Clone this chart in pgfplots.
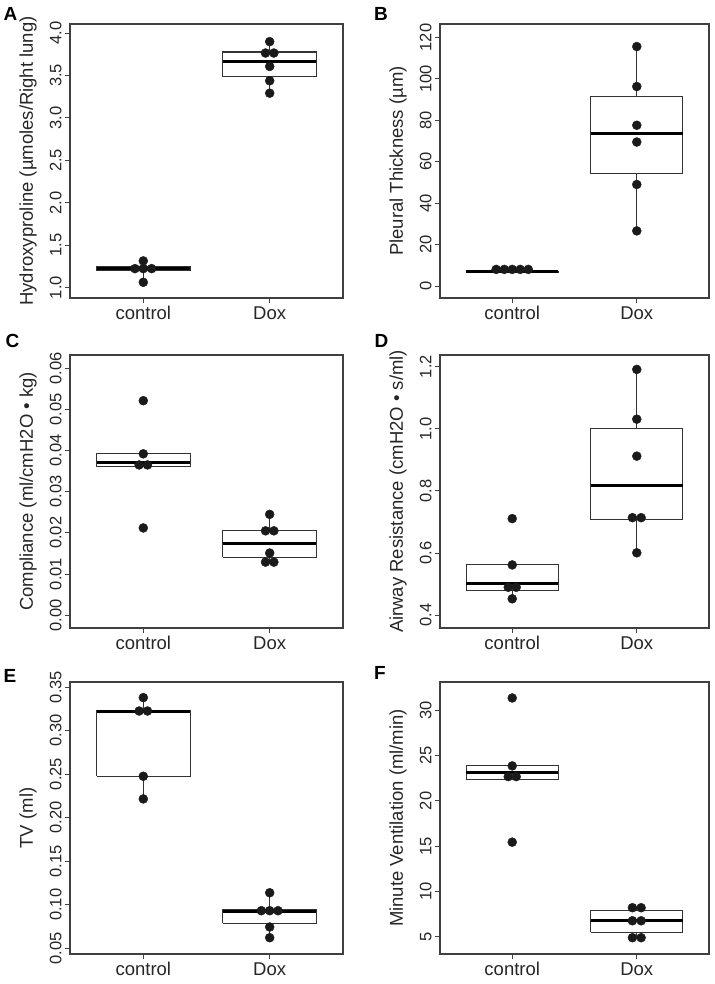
\documentclass[border=0pt]{standalone}
\usepackage{fontspec}
\setmainfont{Liberation Sans}
\usepackage{pgfplots}
\pgfplotsset{compat=1.18}
\definecolor{dotcol}{HTML}{1A1A1A}
\definecolor{linecol}{HTML}{333333}
\definecolor{framecol}{HTML}{404040}
\pgfplotsset{
  panel/.style={
    scale only axis,
    xmin=0.42, xmax=2.58,
    xtick={1,2}, xticklabels={control,Dox},
    axis line style={framecol, line width=1.1pt},
    tick style={framecol, line width=0.9pt},
    major tick length=5pt,
    tick align=outside,
    xtick pos=bottom, ytick pos=left,
    /pgf/number format/assume math mode=true,
    yticklabel style={rotate=90, anchor=south, font=\fontsize{16.5}{19}\selectfont, text=black!85},
    xticklabel style={font=\fontsize{18.5}{22}\selectfont, text=black!85},
    every axis y label/.style={at={(axis description cs:0,0.5)}, xshift=-42pt, rotate=90, anchor=center, font=\fontsize{18.5}{22}\selectfont, text=black!85},
    clip=false,
  },
  boxline/.style={linecol, line width=1.1pt},
  medline/.style={black, line width=3pt},
  dots/.style={only marks, mark=*, mark size=4.5pt, dotcol, mark options={draw=dotcol, fill=dotcol}},
}
\begin{document}
\begin{tikzpicture}
\useasboundingbox (0,0) rectangle (714pt,984pt);

% ---------------- A ----------------
\begin{axis}[panel, at={(70pt,686pt)}, anchor=south west, width=273pt, height=274pt,
  ymin=0.878, ymax=4.106, ytick={1,1.5,2,2.5,3,3.5,4},
  yticklabel style={/pgf/number format/.cd, fixed, fixed zerofill, precision=1},
  ylabel={Hydroxyproline (µmoles/Right lung)}]
\addplot[boxline] coordinates {(1,1.063) (1,1.315)};
\addplot[boxline, fill=white] coordinates {(0.63,1.20) (1.37,1.20) (1.37,1.252) (0.63,1.252) (0.63,1.20)};
\addplot[medline] coordinates {(0.63,1.226) (1.37,1.226)};
\addplot[boxline] coordinates {(2,3.291) (2,3.898)};
\addplot[boxline, fill=white] coordinates {(1.63,3.484) (2.37,3.484) (2.37,3.776) (1.63,3.776) (1.63,3.484)};
\addplot[medline] coordinates {(1.63,3.669) (2.37,3.669)};
\addplot[dots] coordinates {(1,1.315) (0.934,1.224) (1,1.224) (1.066,1.224) (1,1.063)};
\addplot[dots] coordinates {(2,3.898) (1.967,3.764) (2.033,3.764) (2,3.606) (2,3.437) (2,3.291)};
\end{axis}

% ---------------- B ----------------
\begin{axis}[panel, at={(440pt,686pt)}, anchor=south west, width=269pt, height=274pt,
  ymin=-5.8, ymax=126.5, ytick={0,20,40,60,80,100,120},
  ylabel={Pleural Thickness (µm)}]
\addplot[boxline, fill=white] coordinates {(0.63,6.6) (1.37,6.6) (1.37,7.1) (0.63,7.1) (0.63,6.6)};
\addplot[medline] coordinates {(0.63,6.85) (1.37,6.85)};
\addplot[boxline] coordinates {(2,26.6) (2,115.6)};
\addplot[boxline, fill=white] coordinates {(1.63,54.2) (2.37,54.2) (2.37,91.6) (1.63,91.6) (1.63,54.2)};
\addplot[medline] coordinates {(1.63,73.7) (2.37,73.7)};
\addplot[dots] coordinates {(0.871,8.0) (0.936,8.0) (1,8.0) (1.064,8.0) (1.129,8.0)};
\addplot[dots] coordinates {(2,115.6) (2,96.3) (2,77.6) (2,69.5) (2,49.0) (2,26.6)};
\end{axis}

% ---------------- C ----------------
\begin{axis}[panel, at={(70pt,356pt)}, anchor=south west, width=273pt, height=273pt,
  ymin=-0.0031, ymax=0.0632, ytick={0,0.01,0.02,0.03,0.04,0.05,0.06},
  scaled y ticks=false,
  yticklabel style={/pgf/number format/.cd, fixed, fixed zerofill, precision=2},
  ylabel={Compliance (ml/cmH2O • kg)}]
\addplot[boxline, fill=white] coordinates {(0.63,0.0361) (1.37,0.0361) (1.37,0.0392) (0.63,0.0392) (0.63,0.0361)};
\addplot[medline] coordinates {(0.63,0.0371) (1.37,0.0371)};
\addplot[boxline] coordinates {(2,0.0129) (2,0.0245)};
\addplot[boxline, fill=white] coordinates {(1.63,0.0141) (2.37,0.0141) (2.37,0.0206) (1.63,0.0206) (1.63,0.0141)};
\addplot[medline] coordinates {(1.63,0.0175) (2.37,0.0175)};
\addplot[dots] coordinates {(1,0.0521) (1,0.0392) (0.967,0.0365) (1.033,0.0365) (1,0.0212)};
\addplot[dots] coordinates {(2,0.0245) (1.967,0.0205) (2.033,0.0205) (2,0.0151) (1.967,0.0129) (2.033,0.0129)};
\end{axis}

% ---------------- D ----------------
\begin{axis}[panel, at={(440pt,356pt)}, anchor=south west, width=269pt, height=273pt,
  ymin=0.359, ymax=1.2375, ytick={0.4,0.6,0.8,1.0,1.2},
  yticklabel style={/pgf/number format/.cd, fixed, fixed zerofill, precision=1},
  ylabel={Airway Resistance (cmH2O • s/ml)}]
\addplot[boxline] coordinates {(1,0.453) (1,0.480)};
\addplot[boxline, fill=white] coordinates {(0.63,0.480) (1.37,0.480) (1.37,0.563) (0.63,0.563) (0.63,0.480)};
\addplot[medline] coordinates {(0.63,0.503) (1.37,0.503)};
\addplot[boxline] coordinates {(2,0.601) (2,1.191)};
\addplot[boxline, fill=white] coordinates {(1.63,0.708) (2.37,0.708) (2.37,1.002) (1.63,1.002) (1.63,0.708)};
\addplot[medline] coordinates {(1.63,0.819) (2.37,0.819)};
\addplot[dots] coordinates {(1,0.711) (1,0.562) (0.968,0.490) (1.032,0.490) (1,0.453)};
\addplot[dots] coordinates {(2,1.191) (2,1.031) (2,0.912) (1.965,0.714) (2.035,0.714) (2,0.601)};
\end{axis}

% ---------------- E ----------------
\begin{axis}[panel, at={(70pt,30pt)}, anchor=south west, width=273pt, height=272pt,
  ymin=0.0435, ymax=0.3557, ytick={0.05,0.10,0.15,0.20,0.25,0.30,0.35},
  scaled y ticks=false,
  yticklabel style={/pgf/number format/.cd, fixed, fixed zerofill, precision=2},
  ylabel={TV (ml)}]
\addplot[boxline] coordinates {(1,0.2215) (1,0.3378)};
\addplot[boxline, fill=white] coordinates {(0.63,0.2475) (1.37,0.2475) (1.37,0.3228) (0.63,0.3228) (0.63,0.2475)};
\addplot[medline] coordinates {(0.63,0.3222) (1.37,0.3222)};
\addplot[boxline] coordinates {(2,0.0622) (2,0.1138)};
\addplot[boxline, fill=white] coordinates {(1.63,0.079) (2.37,0.079) (2.37,0.0943) (1.63,0.0943) (1.63,0.079)};
\addplot[medline] coordinates {(1.63,0.0918) (2.37,0.0918)};
\addplot[dots] coordinates {(1,0.3378) (0.967,0.3224) (1.033,0.3224) (1,0.2475) (1,0.2215)};
\addplot[dots] coordinates {(2,0.1138) (1.934,0.0932) (2,0.0932) (2.066,0.0932) (2,0.0745) (2,0.0622)};
\end{axis}

% ---------------- F ----------------
\begin{axis}[panel, at={(440pt,30pt)}, anchor=south west, width=269pt, height=272pt,
  ymin=3.09, ymax=33.125, ytick={5,10,15,20,25,30},
  ylabel={Minute Ventilation (ml/min)}]
\addplot[boxline, fill=white] coordinates {(0.63,22.39) (1.37,22.39) (1.37,23.86) (0.63,23.86) (0.63,22.39)};
\addplot[medline] coordinates {(0.63,23.16) (1.37,23.16)};
\addplot[boxline] coordinates {(2,4.89) (2,8.2)};
\addplot[boxline, fill=white] coordinates {(1.63,5.48) (2.37,5.48) (2.37,7.87) (1.63,7.87) (1.63,5.48)};
\addplot[medline] coordinates {(1.63,6.80) (2.37,6.80)};
\addplot[dots] coordinates {(1,31.36) (1,23.86) (0.968,22.68) (1.032,22.68) (1,15.44)};
\addplot[dots] coordinates {(1.965,8.2) (2.035,8.2) (1.965,6.76) (2.035,6.76) (1.965,4.89) (2.035,4.89)};
\end{axis}

% panel letters
\node[font=\fontsize{19}{22}\selectfont\bfseries] at (10.5pt,970pt) {A};
\node[font=\fontsize{19}{22}\selectfont\bfseries] at (381pt,970pt) {B};
\node[font=\fontsize{19}{22}\selectfont\bfseries] at (12.5pt,643pt) {C};
\node[font=\fontsize{19}{22}\selectfont\bfseries] at (381.5pt,643pt) {D};
\node[font=\fontsize{19}{22}\selectfont\bfseries] at (10pt,308pt) {E};
\node[font=\fontsize{19}{22}\selectfont\bfseries] at (380pt,311pt) {F};
\end{tikzpicture}
\end{document}
